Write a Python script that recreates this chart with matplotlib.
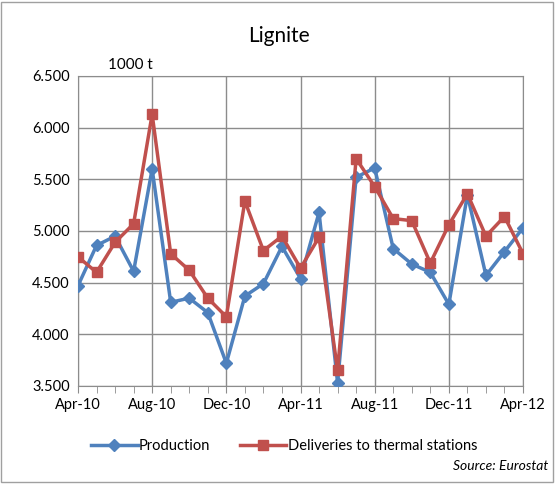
import matplotlib.pyplot as plt
from matplotlib.ticker import FuncFormatter, MultipleLocator
from matplotlib.patches import Rectangle

plt.rcParams['font.family'] = ['Lato', 'DejaVu Sans']

months = ['Apr-10', 'May-10', 'Jun-10', 'Jul-10', 'Aug-10', 'Sep-10', 'Oct-10',
          'Nov-10', 'Dec-10', 'Jan-11', 'Feb-11', 'Mar-11', 'Apr-11', 'May-11',
          'Jun-11', 'Jul-11', 'Aug-11', 'Sep-11', 'Oct-11', 'Nov-11', 'Dec-11',
          'Jan-12', 'Feb-12', 'Mar-12', 'Apr-12']
production = [4470, 4860, 4950, 4610, 5600, 4310, 4350, 4210, 3720, 4370, 4490,
              4850, 4540, 5180, 3530, 5520, 5610, 4830, 4680, 4600, 4290, 5350,
              4570, 4800, 5030]
deliveries = [4750, 4600, 4890, 5070, 6130, 4780, 4620, 4350, 4170, 5290, 4810,
              4950, 4640, 4940, 3650, 5700, 5430, 5120, 5100, 4690, 5060, 5360,
              4950, 5140, 4780]

blue = '#4F81BD'
red = '#C0504D'
grid_c = '#8C8C8C'

fig = plt.figure(figsize=(5.57, 4.84), dpi=100)
fig.patches.append(Rectangle((0.002, 0.004), 0.99, 0.992, transform=fig.transFigure,
                             fill=False, edgecolor='#A0A0A0', linewidth=1))
ax = fig.add_axes([0.140, 0.2025, 0.799, 0.6405])

x = list(range(len(months)))
ax.plot(x, production, color=blue, lw=2.5, marker='D', ms=6.5, label='Production',
        zorder=3)
ax.plot(x, deliveries, color=red, lw=2.5, marker='s', ms=7.5,
        label='Deliveries to thermal stations', zorder=3)

ax.set_xlim(0, len(months) - 1)
ax.set_ylim(3500, 6500)
ax.yaxis.set_major_locator(MultipleLocator(500))
ax.yaxis.set_major_formatter(FuncFormatter(lambda v, p: f'{v/1000:.3f}'))

major = x[::4]
ax.set_xticks(major)
ax.set_xticklabels(months[::4])
ax.set_xticks(x, minor=True)
ax.tick_params(axis='x', which='both', direction='out', length=5, color=grid_c,
               labelsize=10.5, pad=4)
ax.tick_params(axis='y', length=0, labelsize=10.5, pad=6)
ax.grid(True, which='major', color=grid_c, lw=1)
for s in ax.spines.values():
    s.set_color(grid_c)

fig.text(0.5, 0.925, 'Lignite', ha='center', va='center', fontsize=15)
ax.text(0.067, 1.035, '1000 t', transform=ax.transAxes, fontsize=11, va='center')

fig.legend(loc='center', bbox_to_anchor=(0.51, 0.078), ncol=2, frameon=False,
           fontsize=10.5, handlelength=3.2, columnspacing=2.0, handletextpad=0.1)
fig.text(0.984, 0.037, 'Source: Eurostat', ha='right', va='center', fontsize=10,
         style='italic')

fig.savefig('out.png', dpi=100)
